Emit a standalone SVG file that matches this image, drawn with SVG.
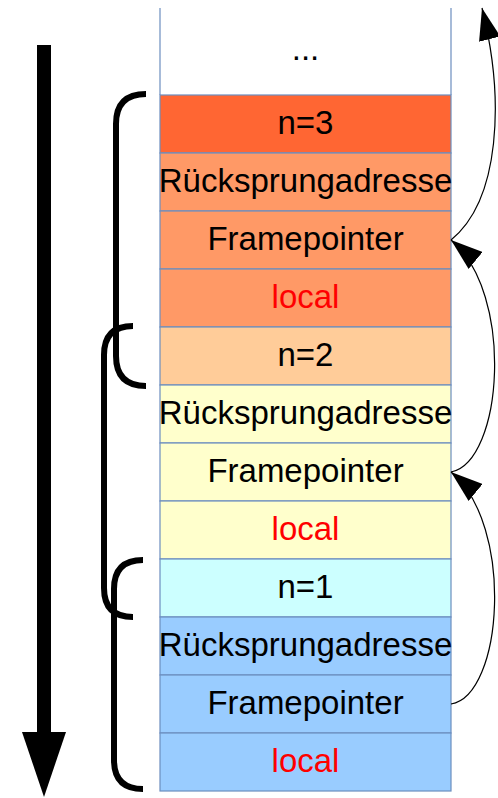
<svg xmlns="http://www.w3.org/2000/svg" width="498" height="798" viewBox="0 0 498 798">
<style>
.cell{stroke:#6C8EBF;stroke-width:1.2}
.t{font-family:"Liberation Sans",Arial,sans-serif;font-size:33px;text-anchor:middle;fill:#000}
.red{fill:#FF0000}
.br{fill:none;stroke:#000;stroke-width:6}
.cn{fill:none;stroke:#000;stroke-width:1.2}
</style>
<defs>
<marker id="ah" markerUnits="userSpaceOnUse" markerWidth="34" markerHeight="22" refX="32" refY="11" orient="auto">
<path d="M0,0 L32,11 L0,22 Z" fill="#000"/>
</marker>
</defs>
<rect width="498" height="798" fill="#fff"/>
<g id="dots">
<line x1="160" y1="8" x2="160" y2="95" class="cell"/>
<line x1="451" y1="8" x2="451" y2="95" class="cell"/>
<text x="305.5" y="60" class="t">...</text>
</g>
<g id="f3-n"><rect x="160" y="95" width="291" height="58" class="cell" fill="#FF6633"/><text x="305.5" y="133.5" class="t">n=3</text></g>
<g id="f3-ret"><rect x="160" y="153" width="291" height="58" class="cell" fill="#FF9966"/><text x="305.5" y="191.5" class="t">Rücksprungadresse</text></g>
<g id="f3-fp"><rect x="160" y="211" width="291" height="58" class="cell" fill="#FF9966"/><text x="305.5" y="249.5" class="t">Framepointer</text></g>
<g id="f3-local"><rect x="160" y="269" width="291" height="58" class="cell" fill="#FF9966"/><text x="305.5" y="307.5" class="t red">local</text></g>
<g id="f2-n"><rect x="160" y="327" width="291" height="58" class="cell" fill="#FFCC99"/><text x="305.5" y="365.5" class="t">n=2</text></g>
<g id="f2-ret"><rect x="160" y="385" width="291" height="58" class="cell" fill="#FFFFCC"/><text x="305.5" y="423.5" class="t">Rücksprungadresse</text></g>
<g id="f2-fp"><rect x="160" y="443" width="291" height="58" class="cell" fill="#FFFFCC"/><text x="305.5" y="481.5" class="t">Framepointer</text></g>
<g id="f2-local"><rect x="160" y="501" width="291" height="58" class="cell" fill="#FFFFCC"/><text x="305.5" y="539.5" class="t red">local</text></g>
<g id="f1-n"><rect x="160" y="559" width="291" height="58" class="cell" fill="#CCFFFF"/><text x="305.5" y="597.5" class="t">n=1</text></g>
<g id="f1-ret"><rect x="160" y="617" width="291" height="58" class="cell" fill="#99CCFF"/><text x="305.5" y="655.5" class="t">Rücksprungadresse</text></g>
<g id="f1-fp"><rect x="160" y="675" width="291" height="58" class="cell" fill="#99CCFF"/><text x="305.5" y="713.5" class="t">Framepointer</text></g>
<g id="f1-local"><rect x="160" y="733" width="291" height="58" class="cell" fill="#99CCFF"/><text x="305.5" y="771.5" class="t red">local</text></g>
<g id="growth-arrow">
<rect x="37" y="45" width="14" height="688" fill="#000"/>
<path d="M22,732 L66,732 L44,797 Z" fill="#000"/>
</g>
<g id="bracket-3"><path class="br" d="M146,94 Q116,94 116,124 L116,356 Q116,386 146,386"/></g>
<g id="bracket-2"><path class="br" d="M133,326 Q104,326 104,355 L104,588 Q104,617 133,617"/></g>
<g id="bracket-1"><path class="br" d="M143,560 Q114,560 114,589 L114,760 Q114,789 143,789"/></g>
<g id="connectors">
<path class="cn" d="M451,240 C500,200 505,100 482,8" marker-end="url(#ah)"/>
<path class="cn" d="M451,472 C503,462 515,293 451,240" marker-end="url(#ah)"/>
<path class="cn" d="M451,704 C503,696 515,525 451,472" marker-end="url(#ah)"/>
</g>
</svg>
